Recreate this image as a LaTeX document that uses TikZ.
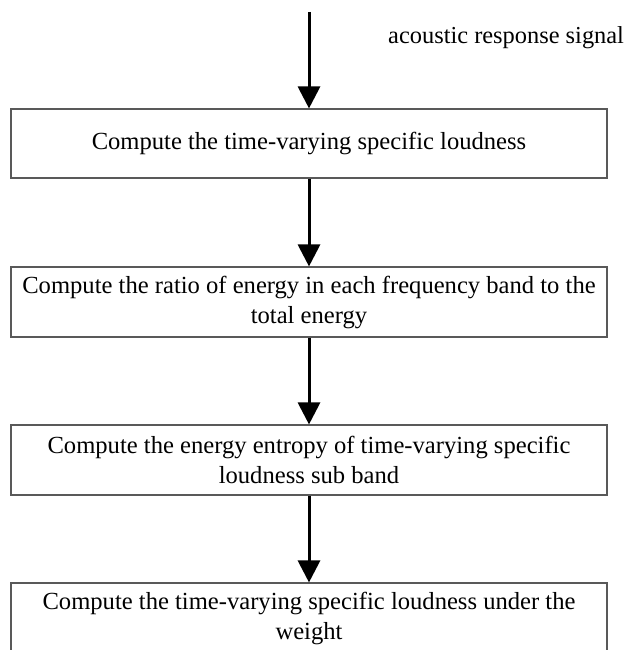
\documentclass[tikz,border=0pt]{standalone}
\usepackage{fontspec}
\setmainfont{Liberation Serif}
\usetikzlibrary{arrows.meta}
\begin{document}
\begin{tikzpicture}[x=1pt,y=1pt,
  stepbox/.style={draw=black!65, line width=1.1pt, minimum width=596pt, inner sep=0pt, align=center, font=\fontsize{24.6}{30}\selectfont},
  flow/.style={line width=3pt, -{Triangle[width=22pt,length=22pt]}},
  lbl/.style={font=\fontsize{24.4}{28}\selectfont, inner sep=0pt}]
\useasboundingbox (0,0) rectangle (628,-650);
\clip (0,0) rectangle (628,-650);
\coordinate (in) at (309,-12);
\node[lbl, anchor=west] (sig) at (388,-38) {acoustic response signal};
\node[stepbox, minimum height=69pt] (b1) at (309,-143.5) {Compute the time-varying specific loudness};
\node[stepbox, minimum height=70pt] (b2) at (309,-302) {Compute the ratio of energy in each frequency band to the\\total energy};
\node[stepbox, minimum height=70pt] (b3) at (309,-460) {Compute the energy entropy of time-varying specific\\loudness sub band};
\node[stepbox, minimum height=70pt] (b4) at (309,-618) {Compute the time-varying specific loudness under the\\weight};
\draw[flow] (in) -- (b1.north);
\draw[flow] (b1.south) -- (b2.north);
\draw[flow] (b2.south) -- (b3.north);
\draw[flow] (b3.south) -- (b4.north);
\end{tikzpicture}
\end{document}
